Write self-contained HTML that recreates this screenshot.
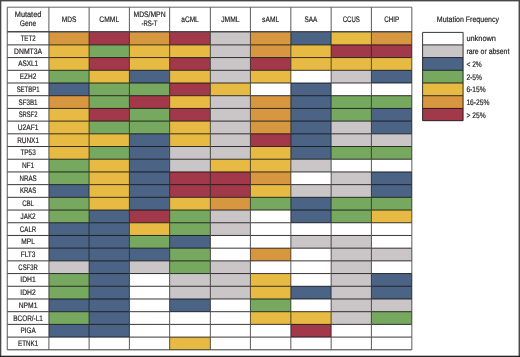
<!DOCTYPE html><html><head><meta charset="utf-8"><style>html,body{margin:0;padding:0;background:#fff;width:520px;height:357px;overflow:hidden;}svg{display:block;will-change:transform}</style></head><body>
<svg width="520" height="357" viewBox="0 0 520 357">
<rect x="0" y="0" width="520" height="357" fill="#fff"/>
<rect x="48.90" y="31.80" width="40.20" height="13.08" fill="#D69740"/>
<rect x="89.10" y="31.80" width="40.30" height="13.08" fill="#A2394A"/>
<rect x="129.40" y="31.80" width="40.25" height="13.08" fill="#D69740"/>
<rect x="169.65" y="31.80" width="40.70" height="13.08" fill="#A2394A"/>
<rect x="210.35" y="31.80" width="40.05" height="13.08" fill="#CAC5C7"/>
<rect x="250.40" y="31.80" width="40.45" height="13.08" fill="#D69740"/>
<rect x="290.85" y="31.80" width="40.30" height="13.08" fill="#4B6486"/>
<rect x="331.15" y="31.80" width="40.25" height="13.08" fill="#E7BA44"/>
<rect x="371.40" y="31.80" width="40.45" height="13.08" fill="#D69740"/>
<rect x="48.90" y="44.88" width="40.20" height="12.71" fill="#E7BA44"/>
<rect x="89.10" y="44.88" width="40.30" height="12.71" fill="#77A85F"/>
<rect x="129.40" y="44.88" width="40.25" height="12.71" fill="#E7BA44"/>
<rect x="169.65" y="44.88" width="40.70" height="12.71" fill="#E7BA44"/>
<rect x="210.35" y="44.88" width="40.05" height="12.71" fill="#CAC5C7"/>
<rect x="250.40" y="44.88" width="40.45" height="12.71" fill="#D69740"/>
<rect x="290.85" y="44.88" width="40.30" height="12.71" fill="#E7BA44"/>
<rect x="331.15" y="44.88" width="40.25" height="12.71" fill="#A2394A"/>
<rect x="371.40" y="44.88" width="40.45" height="12.71" fill="#A2394A"/>
<rect x="48.90" y="57.59" width="40.20" height="12.70" fill="#E7BA44"/>
<rect x="89.10" y="57.59" width="40.30" height="12.70" fill="#A2394A"/>
<rect x="129.40" y="57.59" width="40.25" height="12.70" fill="#E7BA44"/>
<rect x="169.65" y="57.59" width="40.70" height="12.70" fill="#A2394A"/>
<rect x="210.35" y="57.59" width="40.05" height="12.70" fill="#CAC5C7"/>
<rect x="250.40" y="57.59" width="40.45" height="12.70" fill="#A2394A"/>
<rect x="290.85" y="57.59" width="40.30" height="12.70" fill="#E7BA44"/>
<rect x="331.15" y="57.59" width="40.25" height="12.70" fill="#E7BA44"/>
<rect x="371.40" y="57.59" width="40.45" height="12.70" fill="#E7BA44"/>
<rect x="48.90" y="70.30" width="40.20" height="12.70" fill="#77A85F"/>
<rect x="89.10" y="70.30" width="40.30" height="12.70" fill="#E7BA44"/>
<rect x="129.40" y="70.30" width="40.25" height="12.70" fill="#4B6486"/>
<rect x="169.65" y="70.30" width="40.70" height="12.70" fill="#E7BA44"/>
<rect x="210.35" y="70.30" width="40.05" height="12.70" fill="#CAC5C7"/>
<rect x="250.40" y="70.30" width="40.45" height="12.70" fill="#E7BA44"/>
<rect x="331.15" y="70.30" width="40.25" height="12.70" fill="#CAC5C7"/>
<rect x="371.40" y="70.30" width="40.45" height="12.70" fill="#4B6486"/>
<rect x="48.90" y="83.00" width="40.20" height="12.70" fill="#4B6486"/>
<rect x="89.10" y="83.00" width="40.30" height="12.70" fill="#77A85F"/>
<rect x="129.40" y="83.00" width="40.25" height="12.70" fill="#77A85F"/>
<rect x="169.65" y="83.00" width="40.70" height="12.70" fill="#A2394A"/>
<rect x="210.35" y="83.00" width="40.05" height="12.70" fill="#E7BA44"/>
<rect x="290.85" y="83.00" width="40.30" height="12.70" fill="#4B6486"/>
<rect x="48.90" y="95.70" width="40.20" height="12.70" fill="#D69740"/>
<rect x="89.10" y="95.70" width="40.30" height="12.70" fill="#77A85F"/>
<rect x="129.40" y="95.70" width="40.25" height="12.70" fill="#A2394A"/>
<rect x="169.65" y="95.70" width="40.70" height="12.70" fill="#E7BA44"/>
<rect x="210.35" y="95.70" width="40.05" height="12.70" fill="#CAC5C7"/>
<rect x="250.40" y="95.70" width="40.45" height="12.70" fill="#D69740"/>
<rect x="290.85" y="95.70" width="40.30" height="12.70" fill="#4B6486"/>
<rect x="331.15" y="95.70" width="40.25" height="12.70" fill="#77A85F"/>
<rect x="371.40" y="95.70" width="40.45" height="12.70" fill="#77A85F"/>
<rect x="48.90" y="108.41" width="40.20" height="12.71" fill="#E7BA44"/>
<rect x="89.10" y="108.41" width="40.30" height="12.71" fill="#A2394A"/>
<rect x="129.40" y="108.41" width="40.25" height="12.71" fill="#77A85F"/>
<rect x="169.65" y="108.41" width="40.70" height="12.71" fill="#A2394A"/>
<rect x="210.35" y="108.41" width="40.05" height="12.71" fill="#CAC5C7"/>
<rect x="250.40" y="108.41" width="40.45" height="12.71" fill="#D69740"/>
<rect x="290.85" y="108.41" width="40.30" height="12.71" fill="#4B6486"/>
<rect x="331.15" y="108.41" width="40.25" height="12.71" fill="#77A85F"/>
<rect x="371.40" y="108.41" width="40.45" height="12.71" fill="#4B6486"/>
<rect x="48.90" y="121.12" width="40.20" height="12.70" fill="#E7BA44"/>
<rect x="89.10" y="121.12" width="40.30" height="12.70" fill="#77A85F"/>
<rect x="129.40" y="121.12" width="40.25" height="12.70" fill="#77A85F"/>
<rect x="169.65" y="121.12" width="40.70" height="12.70" fill="#E7BA44"/>
<rect x="210.35" y="121.12" width="40.05" height="12.70" fill="#CAC5C7"/>
<rect x="250.40" y="121.12" width="40.45" height="12.70" fill="#D69740"/>
<rect x="290.85" y="121.12" width="40.30" height="12.70" fill="#4B6486"/>
<rect x="331.15" y="121.12" width="40.25" height="12.70" fill="#CAC5C7"/>
<rect x="371.40" y="121.12" width="40.45" height="12.70" fill="#4B6486"/>
<rect x="48.90" y="133.82" width="40.20" height="12.71" fill="#E7BA44"/>
<rect x="89.10" y="133.82" width="40.30" height="12.71" fill="#E7BA44"/>
<rect x="129.40" y="133.82" width="40.25" height="12.71" fill="#4B6486"/>
<rect x="169.65" y="133.82" width="40.70" height="12.71" fill="#E7BA44"/>
<rect x="210.35" y="133.82" width="40.05" height="12.71" fill="#CAC5C7"/>
<rect x="250.40" y="133.82" width="40.45" height="12.71" fill="#A2394A"/>
<rect x="290.85" y="133.82" width="40.30" height="12.71" fill="#4B6486"/>
<rect x="331.15" y="133.82" width="40.25" height="12.71" fill="#CAC5C7"/>
<rect x="371.40" y="133.82" width="40.45" height="12.71" fill="#CAC5C7"/>
<rect x="48.90" y="146.53" width="40.20" height="12.70" fill="#E7BA44"/>
<rect x="89.10" y="146.53" width="40.30" height="12.70" fill="#77A85F"/>
<rect x="129.40" y="146.53" width="40.25" height="12.70" fill="#4B6486"/>
<rect x="169.65" y="146.53" width="40.70" height="12.70" fill="#CAC5C7"/>
<rect x="210.35" y="146.53" width="40.05" height="12.70" fill="#CAC5C7"/>
<rect x="250.40" y="146.53" width="40.45" height="12.70" fill="#E7BA44"/>
<rect x="290.85" y="146.53" width="40.30" height="12.70" fill="#4B6486"/>
<rect x="331.15" y="146.53" width="40.25" height="12.70" fill="#77A85F"/>
<rect x="371.40" y="146.53" width="40.45" height="12.70" fill="#77A85F"/>
<rect x="48.90" y="159.23" width="40.20" height="12.71" fill="#77A85F"/>
<rect x="89.10" y="159.23" width="40.30" height="12.71" fill="#E7BA44"/>
<rect x="129.40" y="159.23" width="40.25" height="12.71" fill="#4B6486"/>
<rect x="169.65" y="159.23" width="40.70" height="12.71" fill="#CAC5C7"/>
<rect x="210.35" y="159.23" width="40.05" height="12.71" fill="#E7BA44"/>
<rect x="250.40" y="159.23" width="40.45" height="12.71" fill="#E7BA44"/>
<rect x="290.85" y="159.23" width="40.30" height="12.71" fill="#CAC5C7"/>
<rect x="48.90" y="171.94" width="40.20" height="12.71" fill="#77A85F"/>
<rect x="89.10" y="171.94" width="40.30" height="12.71" fill="#E7BA44"/>
<rect x="129.40" y="171.94" width="40.25" height="12.71" fill="#4B6486"/>
<rect x="169.65" y="171.94" width="40.70" height="12.71" fill="#A2394A"/>
<rect x="210.35" y="171.94" width="40.05" height="12.71" fill="#A2394A"/>
<rect x="250.40" y="171.94" width="40.45" height="12.71" fill="#D69740"/>
<rect x="331.15" y="171.94" width="40.25" height="12.71" fill="#CAC5C7"/>
<rect x="371.40" y="171.94" width="40.45" height="12.71" fill="#4B6486"/>
<rect x="48.90" y="184.64" width="40.20" height="12.70" fill="#4B6486"/>
<rect x="89.10" y="184.64" width="40.30" height="12.70" fill="#E7BA44"/>
<rect x="129.40" y="184.64" width="40.25" height="12.70" fill="#4B6486"/>
<rect x="169.65" y="184.64" width="40.70" height="12.70" fill="#A2394A"/>
<rect x="210.35" y="184.64" width="40.05" height="12.70" fill="#A2394A"/>
<rect x="250.40" y="184.64" width="40.45" height="12.70" fill="#E7BA44"/>
<rect x="290.85" y="184.64" width="40.30" height="12.70" fill="#CAC5C7"/>
<rect x="331.15" y="184.64" width="40.25" height="12.70" fill="#CAC5C7"/>
<rect x="371.40" y="184.64" width="40.45" height="12.70" fill="#4B6486"/>
<rect x="48.90" y="197.34" width="40.20" height="12.71" fill="#77A85F"/>
<rect x="89.10" y="197.34" width="40.30" height="12.71" fill="#E7BA44"/>
<rect x="129.40" y="197.34" width="40.25" height="12.71" fill="#4B6486"/>
<rect x="169.65" y="197.34" width="40.70" height="12.71" fill="#E7BA44"/>
<rect x="210.35" y="197.34" width="40.05" height="12.71" fill="#D69740"/>
<rect x="250.40" y="197.34" width="40.45" height="12.71" fill="#77A85F"/>
<rect x="290.85" y="197.34" width="40.30" height="12.71" fill="#4B6486"/>
<rect x="331.15" y="197.34" width="40.25" height="12.71" fill="#77A85F"/>
<rect x="371.40" y="197.34" width="40.45" height="12.71" fill="#77A85F"/>
<rect x="48.90" y="210.05" width="40.20" height="12.70" fill="#77A85F"/>
<rect x="89.10" y="210.05" width="40.30" height="12.70" fill="#4B6486"/>
<rect x="129.40" y="210.05" width="40.25" height="12.70" fill="#A2394A"/>
<rect x="169.65" y="210.05" width="40.70" height="12.70" fill="#77A85F"/>
<rect x="210.35" y="210.05" width="40.05" height="12.70" fill="#CAC5C7"/>
<rect x="290.85" y="210.05" width="40.30" height="12.70" fill="#4B6486"/>
<rect x="331.15" y="210.05" width="40.25" height="12.70" fill="#77A85F"/>
<rect x="371.40" y="210.05" width="40.45" height="12.70" fill="#E7BA44"/>
<rect x="48.90" y="222.75" width="40.20" height="12.71" fill="#4B6486"/>
<rect x="89.10" y="222.75" width="40.30" height="12.71" fill="#4B6486"/>
<rect x="129.40" y="222.75" width="40.25" height="12.71" fill="#E7BA44"/>
<rect x="169.65" y="222.75" width="40.70" height="12.71" fill="#77A85F"/>
<rect x="210.35" y="222.75" width="40.05" height="12.71" fill="#CAC5C7"/>
<rect x="48.90" y="235.46" width="40.20" height="12.71" fill="#4B6486"/>
<rect x="89.10" y="235.46" width="40.30" height="12.71" fill="#4B6486"/>
<rect x="129.40" y="235.46" width="40.25" height="12.71" fill="#77A85F"/>
<rect x="169.65" y="235.46" width="40.70" height="12.71" fill="#4B6486"/>
<rect x="290.85" y="235.46" width="40.30" height="12.71" fill="#CAC5C7"/>
<rect x="331.15" y="235.46" width="40.25" height="12.71" fill="#CAC5C7"/>
<rect x="48.90" y="248.17" width="40.20" height="12.70" fill="#4B6486"/>
<rect x="89.10" y="248.17" width="40.30" height="12.70" fill="#4B6486"/>
<rect x="129.40" y="248.17" width="40.25" height="12.70" fill="#4B6486"/>
<rect x="169.65" y="248.17" width="40.70" height="12.70" fill="#77A85F"/>
<rect x="250.40" y="248.17" width="40.45" height="12.70" fill="#D69740"/>
<rect x="331.15" y="248.17" width="40.25" height="12.70" fill="#CAC5C7"/>
<rect x="371.40" y="248.17" width="40.45" height="12.70" fill="#CAC5C7"/>
<rect x="48.90" y="260.87" width="40.20" height="12.70" fill="#CAC5C7"/>
<rect x="89.10" y="260.87" width="40.30" height="12.70" fill="#4B6486"/>
<rect x="129.40" y="260.87" width="40.25" height="12.70" fill="#CAC5C7"/>
<rect x="169.65" y="260.87" width="40.70" height="12.70" fill="#77A85F"/>
<rect x="210.35" y="260.87" width="40.05" height="12.70" fill="#CAC5C7"/>
<rect x="331.15" y="260.87" width="40.25" height="12.70" fill="#CAC5C7"/>
<rect x="48.90" y="273.57" width="40.20" height="12.70" fill="#77A85F"/>
<rect x="89.10" y="273.57" width="40.30" height="12.70" fill="#4B6486"/>
<rect x="169.65" y="273.57" width="40.70" height="12.70" fill="#CAC5C7"/>
<rect x="210.35" y="273.57" width="40.05" height="12.70" fill="#CAC5C7"/>
<rect x="250.40" y="273.57" width="40.45" height="12.70" fill="#E7BA44"/>
<rect x="331.15" y="273.57" width="40.25" height="12.70" fill="#CAC5C7"/>
<rect x="371.40" y="273.57" width="40.45" height="12.70" fill="#4B6486"/>
<rect x="48.90" y="286.28" width="40.20" height="12.71" fill="#77A85F"/>
<rect x="89.10" y="286.28" width="40.30" height="12.71" fill="#4B6486"/>
<rect x="169.65" y="286.28" width="40.70" height="12.71" fill="#CAC5C7"/>
<rect x="210.35" y="286.28" width="40.05" height="12.71" fill="#CAC5C7"/>
<rect x="250.40" y="286.28" width="40.45" height="12.71" fill="#E7BA44"/>
<rect x="290.85" y="286.28" width="40.30" height="12.71" fill="#4B6486"/>
<rect x="331.15" y="286.28" width="40.25" height="12.71" fill="#CAC5C7"/>
<rect x="371.40" y="286.28" width="40.45" height="12.71" fill="#4B6486"/>
<rect x="48.90" y="298.99" width="40.20" height="12.70" fill="#4B6486"/>
<rect x="89.10" y="298.99" width="40.30" height="12.70" fill="#4B6486"/>
<rect x="169.65" y="298.99" width="40.70" height="12.70" fill="#4B6486"/>
<rect x="250.40" y="298.99" width="40.45" height="12.70" fill="#77A85F"/>
<rect x="331.15" y="298.99" width="40.25" height="12.70" fill="#CAC5C7"/>
<rect x="371.40" y="298.99" width="40.45" height="12.70" fill="#CAC5C7"/>
<rect x="48.90" y="311.69" width="40.20" height="12.70" fill="#77A85F"/>
<rect x="89.10" y="311.69" width="40.30" height="12.70" fill="#4B6486"/>
<rect x="250.40" y="311.69" width="40.45" height="12.70" fill="#E7BA44"/>
<rect x="290.85" y="311.69" width="40.30" height="12.70" fill="#E7BA44"/>
<rect x="331.15" y="311.69" width="40.25" height="12.70" fill="#CAC5C7"/>
<rect x="371.40" y="311.69" width="40.45" height="12.70" fill="#77A85F"/>
<rect x="48.90" y="324.39" width="40.20" height="12.71" fill="#4B6486"/>
<rect x="89.10" y="324.39" width="40.30" height="12.71" fill="#4B6486"/>
<rect x="290.85" y="324.39" width="40.30" height="12.71" fill="#A2394A"/>
<rect x="169.65" y="337.10" width="40.70" height="12.70" fill="#E7BA44"/>
<rect x="422.6" y="44.88" width="40.50" height="12.71" fill="#CAC5C7"/>
<rect x="422.6" y="57.59" width="40.50" height="12.70" fill="#4B6486"/>
<rect x="422.6" y="70.30" width="40.50" height="12.70" fill="#77A85F"/>
<rect x="422.6" y="83.00" width="40.50" height="12.70" fill="#E7BA44"/>
<rect x="422.6" y="95.70" width="40.50" height="12.70" fill="#D69740"/>
<rect x="422.6" y="108.41" width="40.50" height="12.29" fill="#A2394A"/>
<g stroke="#383838" stroke-width="1" fill="none" style="mix-blend-mode:multiply">
<line x1="7.25" y1="44.88" x2="411.85" y2="44.88"/>
<line x1="7.25" y1="57.59" x2="411.85" y2="57.59"/>
<line x1="7.25" y1="70.30" x2="411.85" y2="70.30"/>
<line x1="7.25" y1="83.00" x2="411.85" y2="83.00"/>
<line x1="7.25" y1="95.70" x2="411.85" y2="95.70"/>
<line x1="7.25" y1="108.41" x2="411.85" y2="108.41"/>
<line x1="7.25" y1="121.12" x2="411.85" y2="121.12"/>
<line x1="7.25" y1="133.82" x2="411.85" y2="133.82"/>
<line x1="7.25" y1="146.53" x2="411.85" y2="146.53"/>
<line x1="7.25" y1="159.23" x2="411.85" y2="159.23"/>
<line x1="7.25" y1="171.94" x2="411.85" y2="171.94"/>
<line x1="7.25" y1="184.64" x2="411.85" y2="184.64"/>
<line x1="7.25" y1="197.34" x2="411.85" y2="197.34"/>
<line x1="7.25" y1="210.05" x2="411.85" y2="210.05"/>
<line x1="7.25" y1="222.75" x2="411.85" y2="222.75"/>
<line x1="7.25" y1="235.46" x2="411.85" y2="235.46"/>
<line x1="7.25" y1="248.17" x2="411.85" y2="248.17"/>
<line x1="7.25" y1="260.87" x2="411.85" y2="260.87"/>
<line x1="7.25" y1="273.57" x2="411.85" y2="273.57"/>
<line x1="7.25" y1="286.28" x2="411.85" y2="286.28"/>
<line x1="7.25" y1="298.99" x2="411.85" y2="298.99"/>
<line x1="7.25" y1="311.69" x2="411.85" y2="311.69"/>
<line x1="7.25" y1="324.39" x2="411.85" y2="324.39"/>
<line x1="7.25" y1="337.10" x2="411.85" y2="337.10"/>
<line x1="7.25" y1="349.81" x2="411.85" y2="349.81"/>
<line x1="7.25" y1="7.2" x2="411.85" y2="7.2" stroke="#666"/>
<line x1="7.25" y1="7.2" x2="7.25" y2="349.81" stroke="#5a5a5a"/>
<line x1="48.9" y1="7.2" x2="48.9" y2="349.81" stroke="#5a5a5a"/>
<line x1="89.1" y1="7.2" x2="89.1" y2="349.81" stroke="#5a5a5a"/>
<line x1="129.4" y1="7.2" x2="129.4" y2="349.81" stroke="#5a5a5a"/>
<line x1="169.65" y1="7.2" x2="169.65" y2="349.81" stroke="#5a5a5a"/>
<line x1="210.35" y1="7.2" x2="210.35" y2="349.81" stroke="#5a5a5a"/>
<line x1="250.4" y1="7.2" x2="250.4" y2="349.81" stroke="#5a5a5a"/>
<line x1="290.85" y1="7.2" x2="290.85" y2="349.81" stroke="#5a5a5a"/>
<line x1="331.15" y1="7.2" x2="331.15" y2="349.81" stroke="#5a5a5a"/>
<line x1="371.4" y1="7.2" x2="371.4" y2="349.81" stroke="#5a5a5a"/>
<line x1="411.85" y1="7.2" x2="411.85" y2="349.81" stroke="#5a5a5a"/>
<line x1="422.6" y1="32.40" x2="463.1" y2="32.40"/>
<line x1="422.6" y1="44.88" x2="463.1" y2="44.88"/>
<line x1="422.6" y1="57.59" x2="463.1" y2="57.59"/>
<line x1="422.6" y1="70.30" x2="463.1" y2="70.30"/>
<line x1="422.6" y1="83.00" x2="463.1" y2="83.00"/>
<line x1="422.6" y1="95.70" x2="463.1" y2="95.70"/>
<line x1="422.6" y1="108.41" x2="463.1" y2="108.41"/>
<line x1="422.6" y1="120.70" x2="463.1" y2="120.70"/>
<line x1="422.6" y1="32.40" x2="422.6" y2="120.70"/>
<line x1="463.1" y1="32.40" x2="463.1" y2="120.70"/>
</g>
<line x1="7.25" y1="31.85" x2="411.85" y2="31.85" stroke="#4a4a4a" stroke-width="1.5"/>
<rect x="0" y="0" width="1.3" height="357" fill="#474747"/>
<rect x="0" y="0" width="520" height="1.4" fill="#474747"/>
<rect x="518.55" y="0" width="1.45" height="357" fill="#474747"/>
<rect x="0" y="355.7" width="520" height="1.3" fill="#222"/>
<g font-family='"Liberation Sans", sans-serif' font-size="8.0" text-rendering="geometricPrecision" fill="#231f20" stroke="#231f20" stroke-width="0.2">
<text x="28.07" y="40.84" text-anchor="middle" textLength="14.89" lengthAdjust="spacingAndGlyphs">TET2</text>
<text x="28.07" y="53.74" text-anchor="middle" textLength="27.94" lengthAdjust="spacingAndGlyphs">DNMT3A</text>
<text x="28.07" y="66.44" text-anchor="middle" textLength="19.82" lengthAdjust="spacingAndGlyphs">ASXL1</text>
<text x="28.07" y="79.15" text-anchor="middle" textLength="16.46" lengthAdjust="spacingAndGlyphs">EZH2</text>
<text x="28.07" y="91.85" text-anchor="middle" textLength="22.86" lengthAdjust="spacingAndGlyphs">SETBP1</text>
<text x="28.07" y="104.56" text-anchor="middle" textLength="18.98" lengthAdjust="spacingAndGlyphs">SF3B1</text>
<text x="28.07" y="117.26" text-anchor="middle" textLength="18.80" lengthAdjust="spacingAndGlyphs">SRSF2</text>
<text x="28.07" y="129.97" text-anchor="middle" textLength="20.65" lengthAdjust="spacingAndGlyphs">U2AF1</text>
<text x="28.07" y="142.67" text-anchor="middle" textLength="21.81" lengthAdjust="spacingAndGlyphs">RUNX1</text>
<text x="28.07" y="155.38" text-anchor="middle" textLength="15.31" lengthAdjust="spacingAndGlyphs">TP53</text>
<text x="28.07" y="168.08" text-anchor="middle" textLength="12.35" lengthAdjust="spacingAndGlyphs">NF1</text>
<text x="28.07" y="180.79" text-anchor="middle" textLength="17.14" lengthAdjust="spacingAndGlyphs">NRAS</text>
<text x="28.07" y="193.49" text-anchor="middle" textLength="16.28" lengthAdjust="spacingAndGlyphs">KRAS</text>
<text x="28.07" y="206.20" text-anchor="middle" textLength="11.88" lengthAdjust="spacingAndGlyphs">CBL</text>
<text x="28.07" y="218.90" text-anchor="middle" textLength="15.18" lengthAdjust="spacingAndGlyphs">JAK2</text>
<text x="28.07" y="231.61" text-anchor="middle" textLength="16.40" lengthAdjust="spacingAndGlyphs">CALR</text>
<text x="28.07" y="244.31" text-anchor="middle" textLength="13.47" lengthAdjust="spacingAndGlyphs">MPL</text>
<text x="28.07" y="257.02" text-anchor="middle" textLength="14.67" lengthAdjust="spacingAndGlyphs">FLT3</text>
<text x="28.07" y="269.72" text-anchor="middle" textLength="19.45" lengthAdjust="spacingAndGlyphs">CSF3R</text>
<text x="28.07" y="282.43" text-anchor="middle" textLength="15.42" lengthAdjust="spacingAndGlyphs">IDH1</text>
<text x="28.07" y="295.13" text-anchor="middle" textLength="15.42" lengthAdjust="spacingAndGlyphs">IDH2</text>
<text x="28.07" y="307.84" text-anchor="middle" textLength="18.68" lengthAdjust="spacingAndGlyphs">NPM1</text>
<text x="28.07" y="320.54" text-anchor="middle" textLength="29.68" lengthAdjust="spacingAndGlyphs">BCOR/-L1</text>
<text x="28.07" y="333.25" text-anchor="middle" textLength="15.12" lengthAdjust="spacingAndGlyphs">PIGA</text>
<text x="28.07" y="345.95" text-anchor="middle" textLength="20.13" lengthAdjust="spacingAndGlyphs">ETNK1</text>
<text x="28.07" y="16.90" text-anchor="middle" textLength="26.55" lengthAdjust="spacingAndGlyphs">Mutated</text>
<text x="28.07" y="25.80" text-anchor="middle" textLength="16.41" lengthAdjust="spacingAndGlyphs">Gene</text>
<text x="69.00" y="21.50" text-anchor="middle" textLength="14.62" lengthAdjust="spacingAndGlyphs">MDS</text>
<text x="109.25" y="21.50" text-anchor="middle" textLength="19.82" lengthAdjust="spacingAndGlyphs">CMML</text>
<text x="149.53" y="16.90" text-anchor="middle" textLength="32.03" lengthAdjust="spacingAndGlyphs">MDS/MPN</text>
<text x="149.53" y="25.90" text-anchor="middle" textLength="15.96" lengthAdjust="spacingAndGlyphs">-RS-T</text>
<text x="190.00" y="21.50" text-anchor="middle" textLength="17.42" lengthAdjust="spacingAndGlyphs">aCML</text>
<text x="230.38" y="21.50" text-anchor="middle" textLength="18.25" lengthAdjust="spacingAndGlyphs">JMML</text>
<text x="270.62" y="21.50" text-anchor="middle" textLength="17.02" lengthAdjust="spacingAndGlyphs">sAML</text>
<text x="311.00" y="21.50" text-anchor="middle" textLength="12.79" lengthAdjust="spacingAndGlyphs">SAA</text>
<text x="351.27" y="21.50" text-anchor="middle" textLength="17.13" lengthAdjust="spacingAndGlyphs">CCUS</text>
<text x="391.62" y="21.50" text-anchor="middle" textLength="14.92" lengthAdjust="spacingAndGlyphs">CHIP</text>
<text x="436.80" y="21.80" text-anchor="start" textLength="62.20" lengthAdjust="spacingAndGlyphs">Mutation Frequency</text>
<text x="466.40" y="41.44" text-anchor="start" textLength="29.58" lengthAdjust="spacingAndGlyphs">unknown</text>
<text x="466.40" y="54.34" text-anchor="start" textLength="42.99" lengthAdjust="spacingAndGlyphs">rare or absent</text>
<text x="466.40" y="67.04" text-anchor="start" textLength="15.40" lengthAdjust="spacingAndGlyphs">&lt; 2%</text>
<text x="466.40" y="79.75" text-anchor="start" textLength="15.49" lengthAdjust="spacingAndGlyphs">2-5%</text>
<text x="466.40" y="92.45" text-anchor="start" textLength="19.31" lengthAdjust="spacingAndGlyphs">6-15%</text>
<text x="466.40" y="105.16" text-anchor="start" textLength="23.13" lengthAdjust="spacingAndGlyphs">16-25%</text>
<text x="466.40" y="117.86" text-anchor="start" textLength="19.22" lengthAdjust="spacingAndGlyphs">&gt; 25%</text>
</g>
</svg></body></html>
